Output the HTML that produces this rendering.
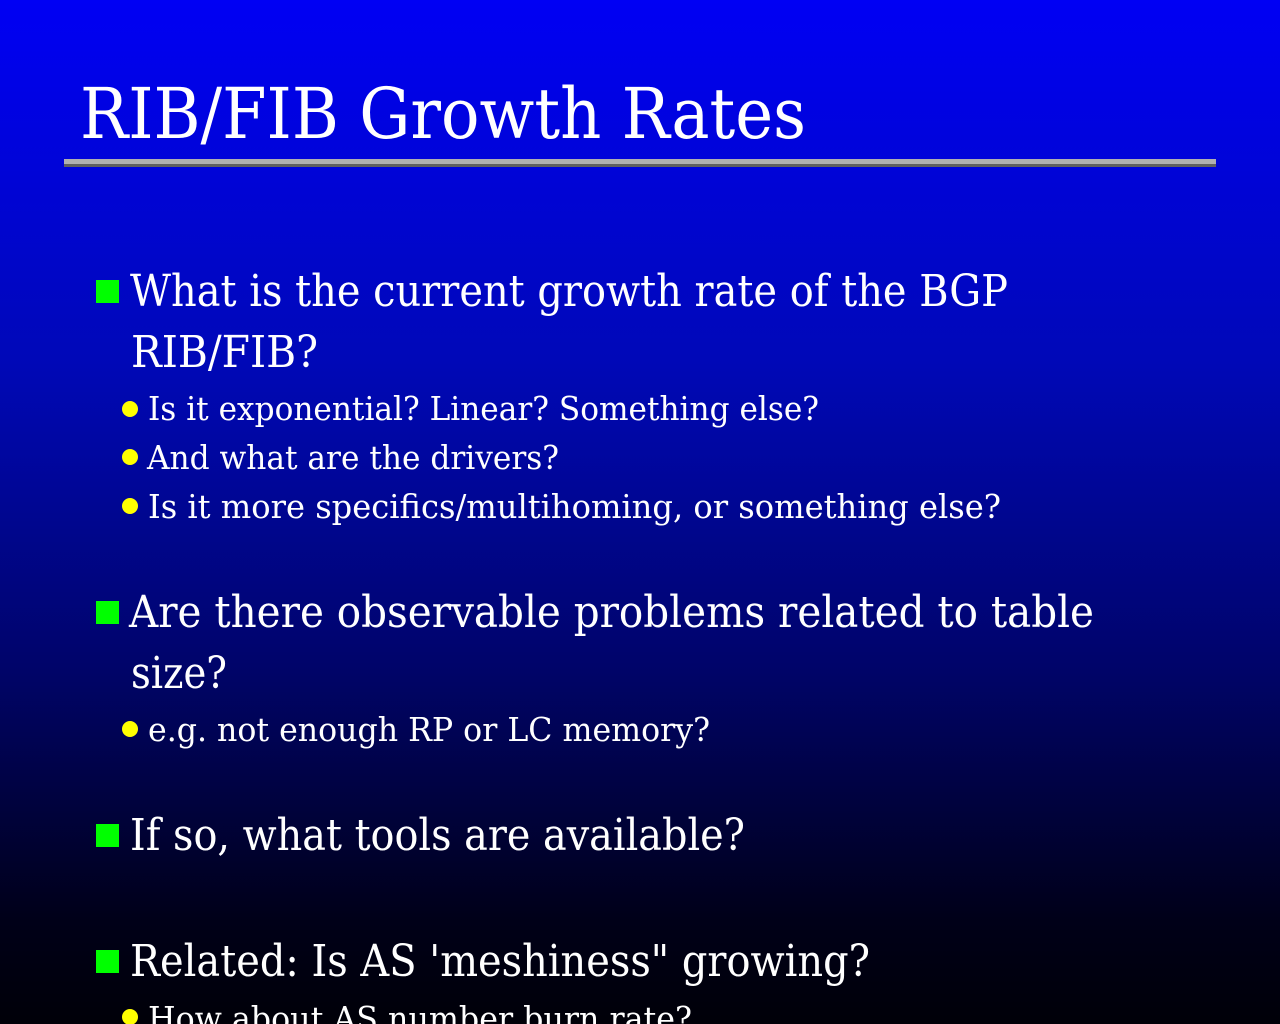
<!DOCTYPE html>
<html><head><meta charset="utf-8"><style>
html,body{margin:0;padding:0;width:1280px;height:1024px;overflow:hidden}
body{background:linear-gradient(to bottom,#0000f4 0%,#0008b8 35%,#00046a 65%,#000018 90%,#000008 100%)}
svg{position:absolute;left:0;top:0}
text{font-family:"DejaVu Serif","Liberation Serif",serif;fill:#fff}
</style></head><body>
<svg width="1280" height="1024">
<text x="80" y="138" font-size="70" textLength="726" lengthAdjust="spacingAndGlyphs">RIB/FIB Growth Rates</text>
<rect x="64" y="159" width="1152" height="5" fill="#b0b0b0"/>
<rect x="64" y="164" width="1152" height="3" fill="#606060"/>

<rect x="96" y="280" width="23" height="23" fill="#00ff00"/>
<text x="130" y="306" font-size="44" textLength="878" lengthAdjust="spacingAndGlyphs">What is the current growth rate of the BGP</text>
<text x="131" y="367" font-size="44" textLength="187" lengthAdjust="spacingAndGlyphs">RIB/FIB?</text>

<circle cx="130" cy="409" r="8" fill="#ffff00"/>
<text x="148" y="420" font-size="33" textLength="671" lengthAdjust="spacingAndGlyphs">Is it exponential? Linear? Something else?</text>
<circle cx="130" cy="457" r="8" fill="#ffff00"/>
<text x="147" y="469" font-size="33" textLength="412" lengthAdjust="spacingAndGlyphs">And what are the drivers?</text>
<circle cx="130" cy="506" r="8" fill="#ffff00"/>
<text x="148" y="518" font-size="33" textLength="853" lengthAdjust="spacingAndGlyphs">Is it more specifics/multihoming, or something else?</text>

<rect x="96" y="601" width="23" height="23" fill="#00ff00"/>
<text x="129" y="627" font-size="44" textLength="965" lengthAdjust="spacingAndGlyphs">Are there observable problems related to table</text>
<text x="131" y="688" font-size="44" textLength="96" lengthAdjust="spacingAndGlyphs">size?</text>
<circle cx="130" cy="729" r="8" fill="#ffff00"/>
<text x="148" y="741" font-size="33" textLength="562" lengthAdjust="spacingAndGlyphs">e.g. not enough RP or LC memory?</text>

<rect x="96" y="824" width="23" height="23" fill="#00ff00"/>
<text x="130" y="850" font-size="44" textLength="615" lengthAdjust="spacingAndGlyphs">If so, what tools are available?</text>

<rect x="96" y="950" width="23" height="23" fill="#00ff00"/>
<text x="130" y="976" font-size="44" textLength="740" lengthAdjust="spacingAndGlyphs">Related: Is AS 'meshiness" growing?</text>
<circle cx="130" cy="1017" r="8" fill="#ffff00"/>
<text x="148" y="1030" font-size="33" textLength="544" lengthAdjust="spacingAndGlyphs">How about AS number burn rate?</text>
</svg>
</body></html>
